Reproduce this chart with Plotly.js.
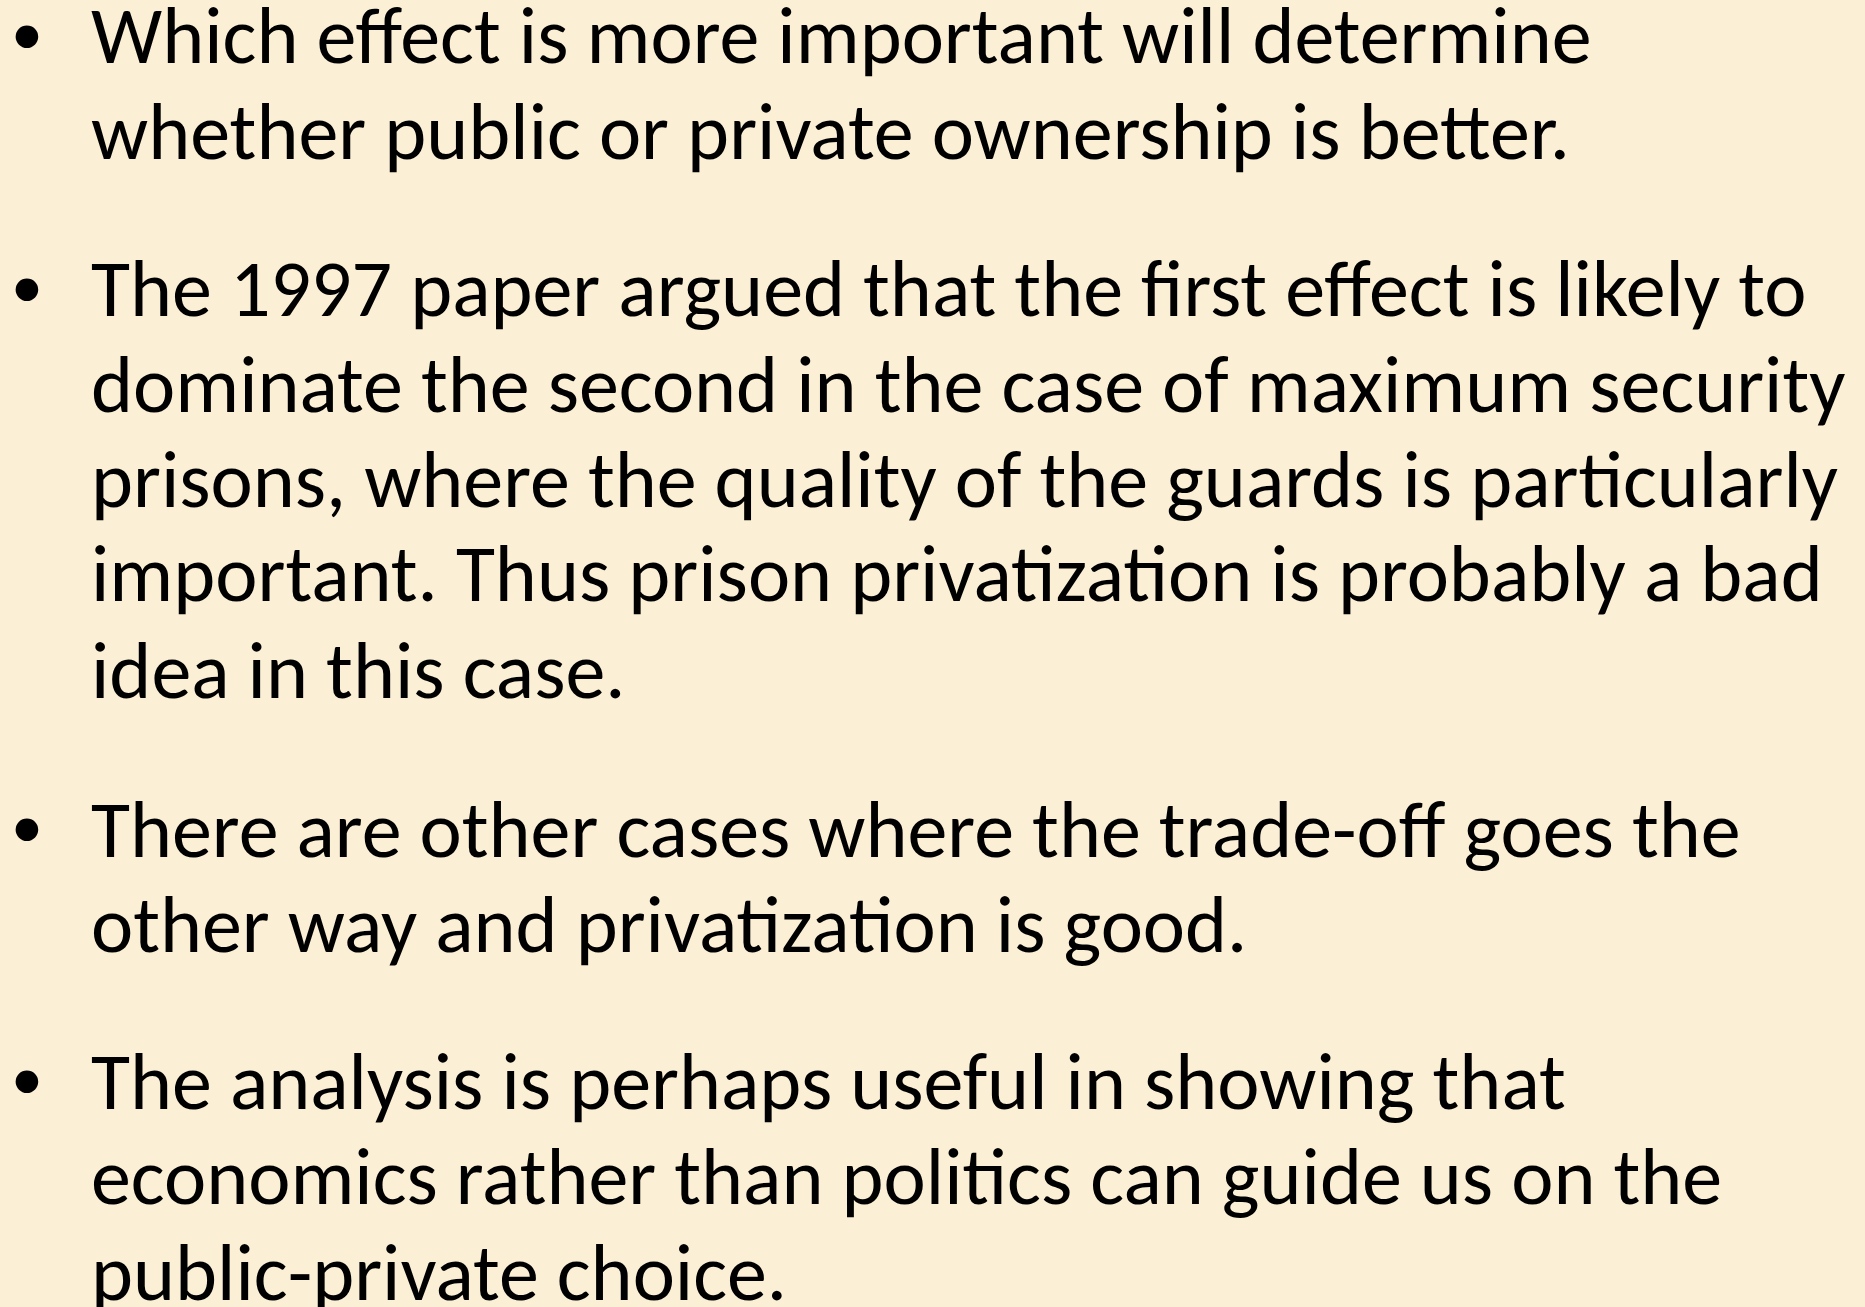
<!DOCTYPE html>
<html>
<head>
<meta charset="utf-8">
<script src="https://cdn.plot.ly/plotly-3.0.1.min.js"></script>
<style>
  html, body { margin: 0; padding: 0; background: #FBEFD5; }
  #chart { width: 1865px; height: 1307px; }
</style>
</head>
<body>
<div id="chart"></div>
<script>
// Slide text, one entry per visual line
const lines = [
  "Which effect is more important will determine",
  "whether public or private ownership is better.",
  "The 1997 paper argued that the first effect is likely to",
  "dominate the second in the case of maximum security",
  "prisons, where the quality of the guards is particularly",
  "important. Thus prison privatization is probably a bad",
  "idea in this case.",
  "There are other cases where the trade-off goes the",
  "other way and privatization is good.",
  "The analysis is perhaps useful in showing that",
  "economics rather than politics can guide us on the",
  "public-private choice."
];
// vertical centre of each line, pixels from top
const lineY = [36, 131, 289, 384, 479, 574, 670, 829, 924, 1081, 1176, 1272];
// which lines start a bullet
const bulletStart = [true, false, true, false, false, false, false, true, false, true, false, false];

const W = 1865, H = 1307;
const textX = 89, bulletX = 27;
const fontFam = "Carlito, Calibri, Lato, 'Open Sans', sans-serif";
const fontSize = 80;
const bulletSize = 64;

const annotations = [];
lines.forEach((t, i) => {
  annotations.push({
    xref: 'paper', yref: 'paper',
    x: textX / W, y: 1 - lineY[i] / H,
    xanchor: 'left', yanchor: 'middle',
    text: t, showarrow: false,
    font: {family: fontFam, size: fontSize, color: '#000000'}
  });
  if (bulletStart[i]) {
    annotations.push({
      xref: 'paper', yref: 'paper',
      x: bulletX / W, y: 1 - (lineY[i] - 3) / H,
      xanchor: 'center', yanchor: 'middle',
      text: '•', showarrow: false,
      font: {family: fontFam, size: bulletSize, color: '#000000'}
    });
  }
});

const layout = {
  width: W, height: H,
  margin: {l: 0, r: 0, t: 0, b: 0},
  paper_bgcolor: '#FBEFD5',
  plot_bgcolor: '#FBEFD5',
  xaxis: {visible: false, range: [0, 1]},
  yaxis: {visible: false, range: [0, 1]},
  showlegend: false,
  annotations: annotations
};

Plotly.newPlot('chart', [], layout, {displayModeBar: false, staticPlot: true});
</script>
</body>
</html>
